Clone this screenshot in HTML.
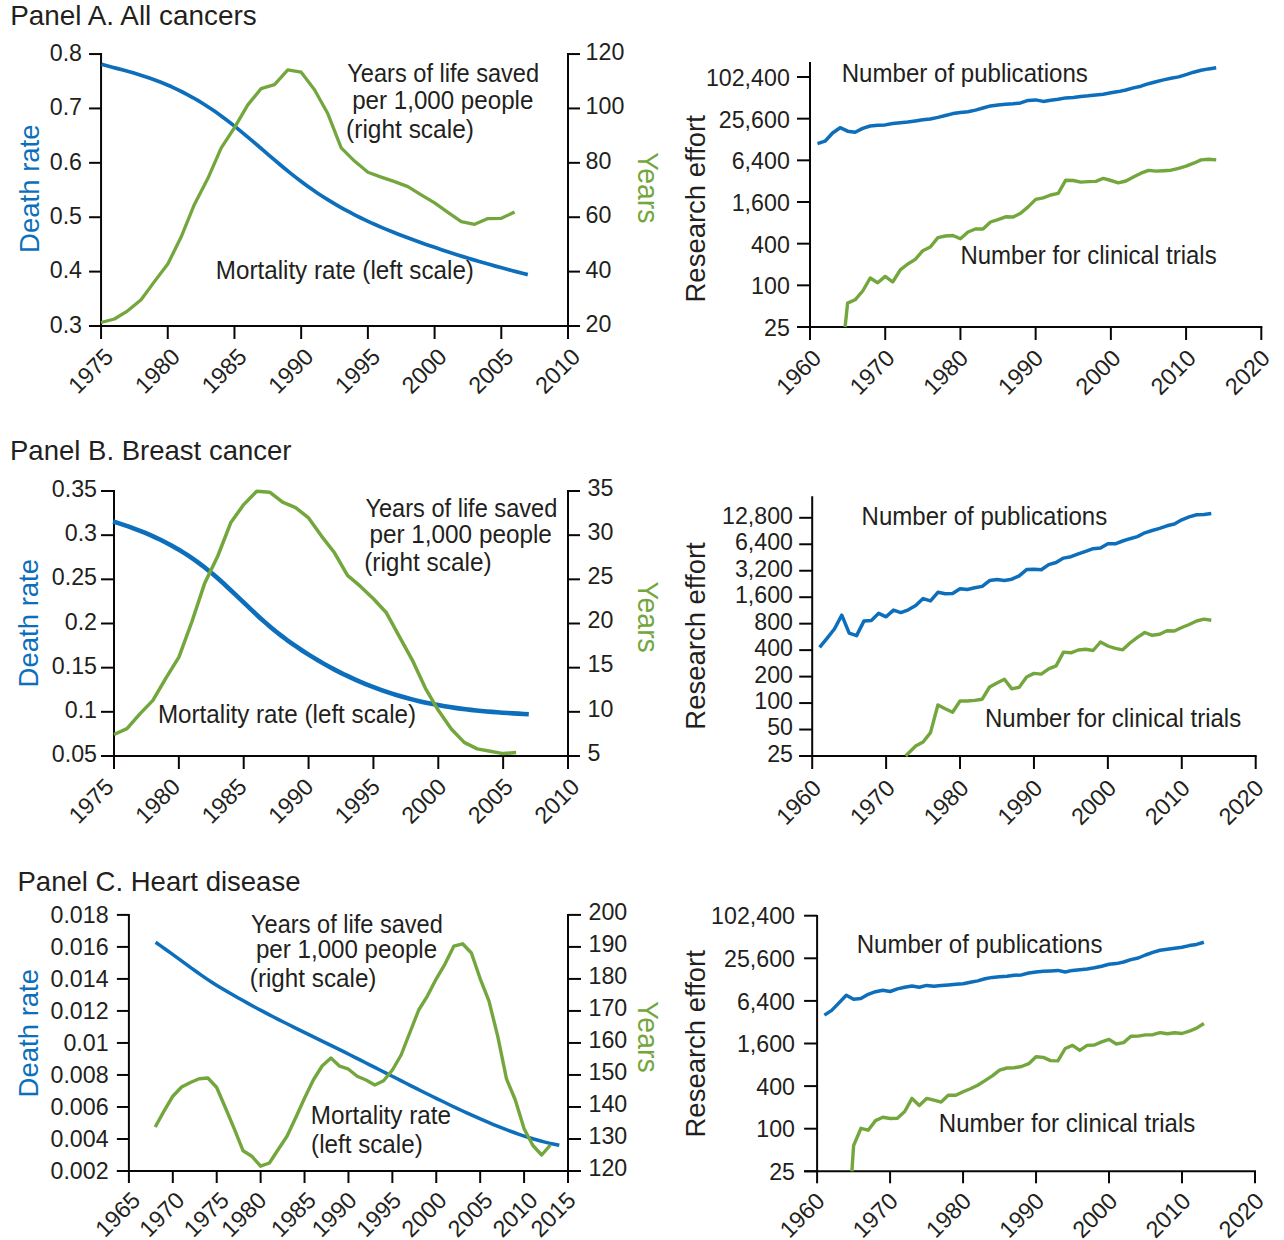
<!DOCTYPE html>
<html><head><meta charset="utf-8"><title>Figure</title>
<style>
html,body{margin:0;padding:0;background:#fff;}
body{width:1284px;height:1240px;overflow:hidden;}
svg{display:block;}
text{font-family:"Liberation Sans",sans-serif;}
</style></head><body>
<svg width="1284" height="1240" viewBox="0 0 1284 1240">
<rect width="1284" height="1240" fill="#ffffff"/>
<text transform="translate(10.20 24.60)" font-size="26.9" fill="#231f20" textLength="246.5" lengthAdjust="spacingAndGlyphs" >Panel A. All cancers</text>
<line x1="101.05" y1="53.05" x2="101.05" y2="327.00" stroke="#0a0606" stroke-width="2.0"/>
<line x1="568.00" y1="53.05" x2="568.00" y2="327.00" stroke="#0a0606" stroke-width="2.0"/>
<line x1="89.05" y1="326.00" x2="580.00" y2="326.00" stroke="#0a0606" stroke-width="2.0"/>
<line x1="89.05" y1="54.05" x2="101.05" y2="54.05" stroke="#0a0606" stroke-width="2.0"/>
<text transform="translate(82.00 60.85) scale(0.98 1)" font-size="23.7" fill="#231f20" text-anchor="end" >0.8</text>
<line x1="89.05" y1="108.44" x2="101.05" y2="108.44" stroke="#0a0606" stroke-width="2.0"/>
<text transform="translate(82.00 115.24) scale(0.98 1)" font-size="23.7" fill="#231f20" text-anchor="end" >0.7</text>
<line x1="89.05" y1="162.83" x2="101.05" y2="162.83" stroke="#0a0606" stroke-width="2.0"/>
<text transform="translate(82.00 169.63) scale(0.98 1)" font-size="23.7" fill="#231f20" text-anchor="end" >0.6</text>
<line x1="89.05" y1="217.22" x2="101.05" y2="217.22" stroke="#0a0606" stroke-width="2.0"/>
<text transform="translate(82.00 224.02) scale(0.98 1)" font-size="23.7" fill="#231f20" text-anchor="end" >0.5</text>
<line x1="89.05" y1="271.61" x2="101.05" y2="271.61" stroke="#0a0606" stroke-width="2.0"/>
<text transform="translate(82.00 278.41) scale(0.98 1)" font-size="23.7" fill="#231f20" text-anchor="end" >0.4</text>
<line x1="89.05" y1="326.00" x2="101.05" y2="326.00" stroke="#0a0606" stroke-width="2.0"/>
<text transform="translate(82.00 332.80) scale(0.98 1)" font-size="23.7" fill="#231f20" text-anchor="end" >0.3</text>
<line x1="568.00" y1="54.05" x2="580.00" y2="54.05" stroke="#0a0606" stroke-width="2.0"/>
<text transform="translate(585.60 59.95) scale(0.98 1)" font-size="23.7" fill="#231f20" >120</text>
<line x1="568.00" y1="108.44" x2="580.00" y2="108.44" stroke="#0a0606" stroke-width="2.0"/>
<text transform="translate(585.60 114.34) scale(0.98 1)" font-size="23.7" fill="#231f20" >100</text>
<line x1="568.00" y1="162.83" x2="580.00" y2="162.83" stroke="#0a0606" stroke-width="2.0"/>
<text transform="translate(585.60 168.73) scale(0.98 1)" font-size="23.7" fill="#231f20" >80</text>
<line x1="568.00" y1="217.22" x2="580.00" y2="217.22" stroke="#0a0606" stroke-width="2.0"/>
<text transform="translate(585.60 223.12) scale(0.98 1)" font-size="23.7" fill="#231f20" >60</text>
<line x1="568.00" y1="271.61" x2="580.00" y2="271.61" stroke="#0a0606" stroke-width="2.0"/>
<text transform="translate(585.60 277.51) scale(0.98 1)" font-size="23.7" fill="#231f20" >40</text>
<line x1="568.00" y1="326.00" x2="580.00" y2="326.00" stroke="#0a0606" stroke-width="2.0"/>
<text transform="translate(585.60 331.90) scale(0.98 1)" font-size="23.7" fill="#231f20" >20</text>
<line x1="101.05" y1="326.00" x2="101.05" y2="339.00" stroke="#0a0606" stroke-width="2.0"/>
<line x1="167.76" y1="326.00" x2="167.76" y2="339.00" stroke="#0a0606" stroke-width="2.0"/>
<line x1="234.46" y1="326.00" x2="234.46" y2="339.00" stroke="#0a0606" stroke-width="2.0"/>
<line x1="301.17" y1="326.00" x2="301.17" y2="339.00" stroke="#0a0606" stroke-width="2.0"/>
<line x1="367.88" y1="326.00" x2="367.88" y2="339.00" stroke="#0a0606" stroke-width="2.0"/>
<line x1="434.59" y1="326.00" x2="434.59" y2="339.00" stroke="#0a0606" stroke-width="2.0"/>
<line x1="501.29" y1="326.00" x2="501.29" y2="339.00" stroke="#0a0606" stroke-width="2.0"/>
<line x1="568.00" y1="326.00" x2="568.00" y2="339.00" stroke="#0a0606" stroke-width="2.0"/>
<text transform="translate(114.80 358.20) rotate(-45)" font-size="23.4" fill="#231f20" text-anchor="end" >1975</text>
<text transform="translate(181.50 358.20) rotate(-45)" font-size="23.4" fill="#231f20" text-anchor="end" >1980</text>
<text transform="translate(248.20 358.20) rotate(-45)" font-size="23.4" fill="#231f20" text-anchor="end" >1985</text>
<text transform="translate(314.90 358.20) rotate(-45)" font-size="23.4" fill="#231f20" text-anchor="end" >1990</text>
<text transform="translate(381.60 358.20) rotate(-45)" font-size="23.4" fill="#231f20" text-anchor="end" >1995</text>
<text transform="translate(448.30 358.20) rotate(-45)" font-size="23.4" fill="#231f20" text-anchor="end" >2000</text>
<text transform="translate(515.00 358.20) rotate(-45)" font-size="23.4" fill="#231f20" text-anchor="end" >2005</text>
<text transform="translate(581.70 358.20) rotate(-45)" font-size="23.4" fill="#231f20" text-anchor="end" >2010</text>
<text transform="translate(38.60 188.70) rotate(-90)" font-size="28.0" fill="#0d6fbb" text-anchor="middle" textLength="128.4" lengthAdjust="spacingAndGlyphs" >Death rate</text>
<text transform="translate(637.80 187.70) rotate(90)" font-size="29.0" fill="#74a63e" text-anchor="middle" textLength="71.6" lengthAdjust="spacingAndGlyphs" >Years</text>
<path d="M101.5,64.32 L106.9,65.77 L112.3,67.19 L117.7,68.61 L123.1,70.06 L128.5,71.54 L133.9,73.08 L139.3,74.69 L144.7,76.40 L150.1,78.21 L155.5,80.16 L160.9,82.24 L166.3,84.46 L171.7,86.82 L177.0,89.33 L182.4,91.99 L187.8,94.80 L193.2,97.77 L198.6,100.91 L204.0,104.21 L209.4,107.69 L214.8,111.34 L220.2,115.17 L225.6,119.18 L231.0,123.35 L236.4,127.65 L241.8,132.07 L247.2,136.58 L252.6,141.16 L258.0,145.78 L263.4,150.42 L268.8,155.05 L274.2,159.66 L279.6,164.23 L285.0,168.72 L290.4,173.11 L295.8,177.38 L301.2,181.51 L306.6,185.49 L312.0,189.31 L317.3,192.98 L322.7,196.51 L328.1,199.91 L333.5,203.17 L338.9,206.31 L344.3,209.33 L349.7,212.23 L355.1,215.03 L360.5,217.73 L365.9,220.32 L371.3,222.83 L376.7,225.25 L382.1,227.59 L387.5,229.86 L392.9,232.06 L398.3,234.20 L403.7,236.28 L409.1,238.31 L414.5,240.30 L419.9,242.24 L425.3,244.15 L430.7,246.03 L436.1,247.87 L441.5,249.68 L446.9,251.46 L452.3,253.21 L457.6,254.92 L463.0,256.61 L468.4,258.26 L473.8,259.89 L479.2,261.49 L484.6,263.05 L490.0,264.59 L495.4,266.10 L500.8,267.59 L506.2,269.05 L511.6,270.48 L517.0,271.88 L522.4,273.26 L527.8,274.61" fill="none" stroke="#0d6fbb" stroke-width="3.7" stroke-linejoin="round" stroke-linecap="butt"/>
<polyline points="101.0,322.5 114.4,319.0 127.7,310.8 141.1,299.8 154.4,281.6 167.8,264.0 181.1,237.1 194.4,204.4 207.8,178.6 221.1,148.2 234.5,127.6 247.8,104.9 261.1,88.6 274.5,84.6 287.8,69.9 301.2,72.2 314.5,89.7 327.9,113.8 341.2,147.8 354.5,161.1 367.9,172.3 381.2,177.1 394.6,181.6 407.9,186.6 421.2,194.8 434.6,202.8 447.9,212.3 461.3,221.6 474.6,224.3 488.0,218.6 501.3,218.3 514.6,212.1" fill="none" stroke="#74a63e" stroke-width="3.3" stroke-linejoin="round" stroke-linecap="butt"/>
<line x1="810.00" y1="62.00" x2="810.00" y2="328.00" stroke="#0a0606" stroke-width="2.0"/>
<line x1="797.00" y1="327.00" x2="1262.30" y2="327.00" stroke="#0a0606" stroke-width="2.0"/>
<line x1="797.00" y1="77.00" x2="810.00" y2="77.00" stroke="#0a0606" stroke-width="2.0"/>
<text transform="translate(789.80 86.00) scale(0.98 1)" font-size="23.7" fill="#231f20" text-anchor="end" >102,400</text>
<line x1="797.00" y1="118.67" x2="810.00" y2="118.67" stroke="#0a0606" stroke-width="2.0"/>
<text transform="translate(789.80 127.67) scale(0.98 1)" font-size="23.7" fill="#231f20" text-anchor="end" >25,600</text>
<line x1="797.00" y1="160.33" x2="810.00" y2="160.33" stroke="#0a0606" stroke-width="2.0"/>
<text transform="translate(789.80 169.33) scale(0.98 1)" font-size="23.7" fill="#231f20" text-anchor="end" >6,400</text>
<line x1="797.00" y1="202.00" x2="810.00" y2="202.00" stroke="#0a0606" stroke-width="2.0"/>
<text transform="translate(789.80 211.00) scale(0.98 1)" font-size="23.7" fill="#231f20" text-anchor="end" >1,600</text>
<line x1="797.00" y1="243.67" x2="810.00" y2="243.67" stroke="#0a0606" stroke-width="2.0"/>
<text transform="translate(789.80 252.67) scale(0.98 1)" font-size="23.7" fill="#231f20" text-anchor="end" >400</text>
<line x1="797.00" y1="285.33" x2="810.00" y2="285.33" stroke="#0a0606" stroke-width="2.0"/>
<text transform="translate(789.80 294.33) scale(0.98 1)" font-size="23.7" fill="#231f20" text-anchor="end" >100</text>
<line x1="797.00" y1="327.00" x2="810.00" y2="327.00" stroke="#0a0606" stroke-width="2.0"/>
<text transform="translate(789.80 336.00) scale(0.98 1)" font-size="23.7" fill="#231f20" text-anchor="end" >25</text>
<line x1="810.00" y1="327.00" x2="810.00" y2="340.00" stroke="#0a0606" stroke-width="2.0"/>
<line x1="885.22" y1="327.00" x2="885.22" y2="340.00" stroke="#0a0606" stroke-width="2.0"/>
<line x1="960.43" y1="327.00" x2="960.43" y2="340.00" stroke="#0a0606" stroke-width="2.0"/>
<line x1="1035.65" y1="327.00" x2="1035.65" y2="340.00" stroke="#0a0606" stroke-width="2.0"/>
<line x1="1110.87" y1="327.00" x2="1110.87" y2="340.00" stroke="#0a0606" stroke-width="2.0"/>
<line x1="1186.08" y1="327.00" x2="1186.08" y2="340.00" stroke="#0a0606" stroke-width="2.0"/>
<line x1="1261.30" y1="327.00" x2="1261.30" y2="340.00" stroke="#0a0606" stroke-width="2.0"/>
<text transform="translate(822.70 359.50) rotate(-45)" font-size="23.4" fill="#231f20" text-anchor="end" >1960</text>
<text transform="translate(896.20 359.50) rotate(-45)" font-size="23.4" fill="#231f20" text-anchor="end" >1970</text>
<text transform="translate(969.70 359.50) rotate(-45)" font-size="23.4" fill="#231f20" text-anchor="end" >1980</text>
<text transform="translate(1044.60 359.50) rotate(-45)" font-size="23.4" fill="#231f20" text-anchor="end" >1990</text>
<text transform="translate(1122.10 359.50) rotate(-45)" font-size="23.4" fill="#231f20" text-anchor="end" >2000</text>
<text transform="translate(1197.40 359.50) rotate(-45)" font-size="23.4" fill="#231f20" text-anchor="end" >2010</text>
<text transform="translate(1271.50 359.50) rotate(-45)" font-size="23.4" fill="#231f20" text-anchor="end" >2020</text>
<text transform="translate(705.30 208.80) rotate(-90)" font-size="28.0" fill="#231f20" text-anchor="middle" textLength="187.4" lengthAdjust="spacingAndGlyphs" >Research effort</text>
<polyline points="817.5,143.6 825.0,141.2 832.6,133.0 840.1,127.7 847.6,131.2 855.1,132.3 862.7,128.4 870.2,126.0 877.7,125.3 885.2,124.9 892.7,123.5 900.3,122.7 907.8,122.0 915.3,120.9 922.8,119.7 930.3,119.0 937.9,117.4 945.4,115.5 952.9,113.6 960.4,112.5 968.0,111.8 975.5,110.1 983.0,108.0 990.5,105.9 998.0,105.0 1005.6,104.3 1013.1,103.8 1020.6,102.9 1028.1,100.4 1035.7,99.9 1043.2,101.4 1050.7,100.3 1058.2,99.3 1065.7,97.9 1073.3,97.5 1080.8,96.5 1088.3,95.8 1095.8,94.9 1103.3,94.2 1110.9,92.8 1118.4,91.6 1125.9,90.0 1133.4,87.9 1141.0,86.2 1148.5,83.7 1156.0,81.8 1163.5,79.9 1171.0,78.3 1178.6,76.9 1186.1,74.6 1193.6,72.2 1201.1,70.3 1208.6,68.9 1216.2,67.8" fill="none" stroke="#0d6fbb" stroke-width="3.5" stroke-linejoin="round" stroke-linecap="butt"/>
<polyline points="845.1,327.0 847.6,303.1 855.1,299.8 862.7,291.0 870.2,278.0 877.7,282.7 885.2,276.4 892.7,282.0 900.3,269.9 907.8,264.0 915.3,259.4 922.8,250.7 930.3,247.0 937.9,237.6 945.4,236.0 952.9,235.5 960.4,238.8 968.0,232.0 975.5,229.0 983.0,229.0 990.5,222.0 998.0,219.6 1005.6,216.8 1013.1,217.0 1020.6,213.3 1028.1,206.9 1035.7,199.4 1043.2,197.8 1050.7,195.0 1058.2,193.3 1065.7,180.2 1073.3,180.5 1080.8,182.1 1088.3,181.6 1095.8,181.4 1103.3,178.4 1110.9,180.5 1118.4,182.8 1125.9,181.0 1133.4,177.0 1141.0,173.2 1148.5,170.4 1156.0,171.1 1163.5,170.7 1171.0,170.2 1178.6,168.3 1186.1,166.2 1193.6,163.2 1201.1,159.9 1208.6,159.2 1216.2,159.9" fill="none" stroke="#74a63e" stroke-width="3.4" stroke-linejoin="round" stroke-linecap="butt"/>
<text transform="translate(10.00 460.40)" font-size="26.9" fill="#231f20" textLength="281.5" lengthAdjust="spacingAndGlyphs" >Panel B. Breast cancer</text>
<line x1="114.00" y1="490.00" x2="114.00" y2="757.00" stroke="#0a0606" stroke-width="2.0"/>
<line x1="568.00" y1="490.00" x2="568.00" y2="757.00" stroke="#0a0606" stroke-width="2.0"/>
<line x1="101.00" y1="756.00" x2="580.00" y2="756.00" stroke="#0a0606" stroke-width="2.0"/>
<line x1="101.00" y1="491.00" x2="114.00" y2="491.00" stroke="#0a0606" stroke-width="2.0"/>
<text transform="translate(97.00 497.00) scale(0.98 1)" font-size="23.7" fill="#231f20" text-anchor="end" >0.35</text>
<line x1="101.00" y1="535.17" x2="114.00" y2="535.17" stroke="#0a0606" stroke-width="2.0"/>
<text transform="translate(97.00 541.17) scale(0.98 1)" font-size="23.7" fill="#231f20" text-anchor="end" >0.3</text>
<line x1="101.00" y1="579.33" x2="114.00" y2="579.33" stroke="#0a0606" stroke-width="2.0"/>
<text transform="translate(97.00 585.33) scale(0.98 1)" font-size="23.7" fill="#231f20" text-anchor="end" >0.25</text>
<line x1="101.00" y1="623.50" x2="114.00" y2="623.50" stroke="#0a0606" stroke-width="2.0"/>
<text transform="translate(97.00 629.50) scale(0.98 1)" font-size="23.7" fill="#231f20" text-anchor="end" >0.2</text>
<line x1="101.00" y1="667.67" x2="114.00" y2="667.67" stroke="#0a0606" stroke-width="2.0"/>
<text transform="translate(97.00 673.67) scale(0.98 1)" font-size="23.7" fill="#231f20" text-anchor="end" >0.15</text>
<line x1="101.00" y1="711.83" x2="114.00" y2="711.83" stroke="#0a0606" stroke-width="2.0"/>
<text transform="translate(97.00 717.83) scale(0.98 1)" font-size="23.7" fill="#231f20" text-anchor="end" >0.1</text>
<line x1="101.00" y1="756.00" x2="114.00" y2="756.00" stroke="#0a0606" stroke-width="2.0"/>
<text transform="translate(97.00 762.00) scale(0.98 1)" font-size="23.7" fill="#231f20" text-anchor="end" >0.05</text>
<line x1="568.00" y1="491.00" x2="580.00" y2="491.00" stroke="#0a0606" stroke-width="2.0"/>
<text transform="translate(587.60 495.80) scale(0.98 1)" font-size="23.7" fill="#231f20" >35</text>
<line x1="568.00" y1="535.17" x2="580.00" y2="535.17" stroke="#0a0606" stroke-width="2.0"/>
<text transform="translate(587.60 539.97) scale(0.98 1)" font-size="23.7" fill="#231f20" >30</text>
<line x1="568.00" y1="579.33" x2="580.00" y2="579.33" stroke="#0a0606" stroke-width="2.0"/>
<text transform="translate(587.60 584.13) scale(0.98 1)" font-size="23.7" fill="#231f20" >25</text>
<line x1="568.00" y1="623.50" x2="580.00" y2="623.50" stroke="#0a0606" stroke-width="2.0"/>
<text transform="translate(587.60 628.30) scale(0.98 1)" font-size="23.7" fill="#231f20" >20</text>
<line x1="568.00" y1="667.67" x2="580.00" y2="667.67" stroke="#0a0606" stroke-width="2.0"/>
<text transform="translate(587.60 672.47) scale(0.98 1)" font-size="23.7" fill="#231f20" >15</text>
<line x1="568.00" y1="711.83" x2="580.00" y2="711.83" stroke="#0a0606" stroke-width="2.0"/>
<text transform="translate(587.60 716.63) scale(0.98 1)" font-size="23.7" fill="#231f20" >10</text>
<line x1="568.00" y1="756.00" x2="580.00" y2="756.00" stroke="#0a0606" stroke-width="2.0"/>
<text transform="translate(587.60 760.80) scale(0.98 1)" font-size="23.7" fill="#231f20" >5</text>
<line x1="114.00" y1="756.00" x2="114.00" y2="769.00" stroke="#0a0606" stroke-width="2.0"/>
<line x1="178.86" y1="756.00" x2="178.86" y2="769.00" stroke="#0a0606" stroke-width="2.0"/>
<line x1="243.71" y1="756.00" x2="243.71" y2="769.00" stroke="#0a0606" stroke-width="2.0"/>
<line x1="308.57" y1="756.00" x2="308.57" y2="769.00" stroke="#0a0606" stroke-width="2.0"/>
<line x1="373.43" y1="756.00" x2="373.43" y2="769.00" stroke="#0a0606" stroke-width="2.0"/>
<line x1="438.29" y1="756.00" x2="438.29" y2="769.00" stroke="#0a0606" stroke-width="2.0"/>
<line x1="503.14" y1="756.00" x2="503.14" y2="769.00" stroke="#0a0606" stroke-width="2.0"/>
<line x1="568.00" y1="756.00" x2="568.00" y2="769.00" stroke="#0a0606" stroke-width="2.0"/>
<text transform="translate(115.20 788.30) rotate(-45)" font-size="23.4" fill="#231f20" text-anchor="end" >1975</text>
<text transform="translate(181.75 788.30) rotate(-45)" font-size="23.4" fill="#231f20" text-anchor="end" >1980</text>
<text transform="translate(248.30 788.30) rotate(-45)" font-size="23.4" fill="#231f20" text-anchor="end" >1985</text>
<text transform="translate(314.85 788.30) rotate(-45)" font-size="23.4" fill="#231f20" text-anchor="end" >1990</text>
<text transform="translate(381.40 788.30) rotate(-45)" font-size="23.4" fill="#231f20" text-anchor="end" >1995</text>
<text transform="translate(447.95 788.30) rotate(-45)" font-size="23.4" fill="#231f20" text-anchor="end" >2000</text>
<text transform="translate(514.50 788.30) rotate(-45)" font-size="23.4" fill="#231f20" text-anchor="end" >2005</text>
<text transform="translate(581.05 788.30) rotate(-45)" font-size="23.4" fill="#231f20" text-anchor="end" >2010</text>
<text transform="translate(37.90 623.20) rotate(-90)" font-size="28.0" fill="#0d6fbb" text-anchor="middle" textLength="128.4" lengthAdjust="spacingAndGlyphs" >Death rate</text>
<text transform="translate(637.80 617.00) rotate(90)" font-size="29.0" fill="#74a63e" text-anchor="middle" textLength="71.6" lengthAdjust="spacingAndGlyphs" >Years</text>
<path d="M113.1,521.50 L118.4,523.14 L123.6,524.86 L128.9,526.66 L134.1,528.56 L139.4,530.56 L144.7,532.68 L149.9,534.91 L155.2,537.28 L160.5,539.78 L165.7,542.43 L171.0,545.24 L176.2,548.21 L181.5,551.35 L186.8,554.67 L192.0,558.18 L197.3,561.89 L202.6,565.81 L207.8,569.94 L213.1,574.29 L218.3,578.85 L223.6,583.58 L228.9,588.44 L234.1,593.39 L239.4,598.40 L244.7,603.42 L249.9,608.42 L255.2,613.36 L260.4,618.19 L265.7,622.89 L271.0,627.40 L276.2,631.72 L281.5,635.84 L286.7,639.79 L292.0,643.58 L297.3,647.22 L302.5,650.74 L307.8,654.13 L313.1,657.41 L318.3,660.57 L323.6,663.62 L328.8,666.55 L334.1,669.37 L339.4,672.09 L344.6,674.69 L349.9,677.19 L355.2,679.59 L360.4,681.89 L365.7,684.08 L370.9,686.18 L376.2,688.18 L381.5,690.09 L386.7,691.90 L392.0,693.62 L397.2,695.26 L402.5,696.80 L407.8,698.26 L413.0,699.64 L418.3,700.94 L423.6,702.15 L428.8,703.29 L434.1,704.35 L439.3,705.33 L444.6,706.25 L449.9,707.09 L455.1,707.87 L460.4,708.60 L465.7,709.26 L470.9,709.87 L476.2,710.44 L481.4,710.96 L486.7,711.44 L492.0,711.88 L497.2,712.29 L502.5,712.67 L507.8,713.02 L513.0,713.35 L518.3,713.67 L523.5,713.97 L528.8,714.26" fill="none" stroke="#0d6fbb" stroke-width="4.6" stroke-linejoin="round" stroke-linecap="butt"/>
<polyline points="114.0,734.5 127.0,728.7 139.9,713.9 152.9,700.4 165.9,678.1 178.9,657.1 191.8,622.0 204.8,582.9 217.8,556.0 230.7,522.8 243.7,504.6 256.7,491.2 269.7,492.2 282.6,502.2 295.6,507.6 308.6,517.9 321.5,536.1 334.5,552.8 347.5,575.4 360.5,586.4 373.4,598.8 386.4,612.8 399.4,636.7 412.3,660.1 425.3,688.1 438.3,710.3 451.3,729.0 464.2,742.4 477.2,748.9 490.2,751.2 503.1,753.6 516.1,752.4" fill="none" stroke="#74a63e" stroke-width="3.5" stroke-linejoin="round" stroke-linecap="butt"/>
<line x1="812.20" y1="496.30" x2="812.20" y2="757.00" stroke="#0a0606" stroke-width="2.0"/>
<line x1="799.20" y1="756.00" x2="1256.70" y2="756.00" stroke="#0a0606" stroke-width="2.0"/>
<line x1="799.20" y1="517.80" x2="812.20" y2="517.80" stroke="#0a0606" stroke-width="2.0"/>
<text transform="translate(793.00 523.70) scale(0.98 1)" font-size="23.7" fill="#231f20" text-anchor="end" >12,800</text>
<line x1="799.20" y1="544.27" x2="812.20" y2="544.27" stroke="#0a0606" stroke-width="2.0"/>
<text transform="translate(793.00 550.17) scale(0.98 1)" font-size="23.7" fill="#231f20" text-anchor="end" >6,400</text>
<line x1="799.20" y1="570.73" x2="812.20" y2="570.73" stroke="#0a0606" stroke-width="2.0"/>
<text transform="translate(793.00 576.63) scale(0.98 1)" font-size="23.7" fill="#231f20" text-anchor="end" >3,200</text>
<line x1="799.20" y1="597.20" x2="812.20" y2="597.20" stroke="#0a0606" stroke-width="2.0"/>
<text transform="translate(793.00 603.10) scale(0.98 1)" font-size="23.7" fill="#231f20" text-anchor="end" >1,600</text>
<line x1="799.20" y1="623.67" x2="812.20" y2="623.67" stroke="#0a0606" stroke-width="2.0"/>
<text transform="translate(793.00 629.57) scale(0.98 1)" font-size="23.7" fill="#231f20" text-anchor="end" >800</text>
<line x1="799.20" y1="650.13" x2="812.20" y2="650.13" stroke="#0a0606" stroke-width="2.0"/>
<text transform="translate(793.00 656.03) scale(0.98 1)" font-size="23.7" fill="#231f20" text-anchor="end" >400</text>
<line x1="799.20" y1="676.60" x2="812.20" y2="676.60" stroke="#0a0606" stroke-width="2.0"/>
<text transform="translate(793.00 682.50) scale(0.98 1)" font-size="23.7" fill="#231f20" text-anchor="end" >200</text>
<line x1="799.20" y1="703.07" x2="812.20" y2="703.07" stroke="#0a0606" stroke-width="2.0"/>
<text transform="translate(793.00 708.97) scale(0.98 1)" font-size="23.7" fill="#231f20" text-anchor="end" >100</text>
<line x1="799.20" y1="729.53" x2="812.20" y2="729.53" stroke="#0a0606" stroke-width="2.0"/>
<text transform="translate(793.00 735.43) scale(0.98 1)" font-size="23.7" fill="#231f20" text-anchor="end" >50</text>
<line x1="799.20" y1="756.00" x2="812.20" y2="756.00" stroke="#0a0606" stroke-width="2.0"/>
<text transform="translate(793.00 761.90) scale(0.98 1)" font-size="23.7" fill="#231f20" text-anchor="end" >25</text>
<line x1="812.20" y1="756.00" x2="812.20" y2="769.00" stroke="#0a0606" stroke-width="2.0"/>
<line x1="886.12" y1="756.00" x2="886.12" y2="769.00" stroke="#0a0606" stroke-width="2.0"/>
<line x1="960.03" y1="756.00" x2="960.03" y2="769.00" stroke="#0a0606" stroke-width="2.0"/>
<line x1="1033.95" y1="756.00" x2="1033.95" y2="769.00" stroke="#0a0606" stroke-width="2.0"/>
<line x1="1107.87" y1="756.00" x2="1107.87" y2="769.00" stroke="#0a0606" stroke-width="2.0"/>
<line x1="1181.78" y1="756.00" x2="1181.78" y2="769.00" stroke="#0a0606" stroke-width="2.0"/>
<line x1="1255.70" y1="756.00" x2="1255.70" y2="769.00" stroke="#0a0606" stroke-width="2.0"/>
<text transform="translate(822.70 789.50) rotate(-45)" font-size="23.4" fill="#231f20" text-anchor="end" >1960</text>
<text transform="translate(896.45 789.50) rotate(-45)" font-size="23.4" fill="#231f20" text-anchor="end" >1970</text>
<text transform="translate(970.20 789.50) rotate(-45)" font-size="23.4" fill="#231f20" text-anchor="end" >1980</text>
<text transform="translate(1043.95 789.50) rotate(-45)" font-size="23.4" fill="#231f20" text-anchor="end" >1990</text>
<text transform="translate(1117.70 789.50) rotate(-45)" font-size="23.4" fill="#231f20" text-anchor="end" >2000</text>
<text transform="translate(1191.45 789.50) rotate(-45)" font-size="23.4" fill="#231f20" text-anchor="end" >2010</text>
<text transform="translate(1265.20 789.50) rotate(-45)" font-size="23.4" fill="#231f20" text-anchor="end" >2020</text>
<text transform="translate(705.30 636.00) rotate(-90)" font-size="28.0" fill="#231f20" text-anchor="middle" textLength="187.4" lengthAdjust="spacingAndGlyphs" >Research effort</text>
<polyline points="819.6,647.3 827.0,638.4 834.4,629.0 841.8,615.2 849.2,633.2 856.6,635.6 863.9,621.1 871.3,620.4 878.7,613.3 886.1,616.8 893.5,610.1 900.9,612.6 908.3,609.8 915.7,605.6 923.1,598.6 930.5,600.9 937.9,592.3 945.2,593.7 952.6,593.5 960.0,588.8 967.4,589.5 974.8,587.8 982.2,586.4 989.6,580.6 997.0,579.6 1004.4,580.4 1011.8,579.2 1019.2,575.9 1026.6,569.6 1034.0,569.2 1041.3,569.8 1048.7,564.6 1056.1,562.5 1063.5,558.1 1070.9,556.7 1078.3,553.9 1085.7,551.3 1093.1,548.7 1100.5,548.0 1107.9,543.8 1115.3,543.8 1122.7,541.0 1130.0,538.7 1137.4,536.6 1144.8,532.8 1152.2,530.5 1159.6,528.4 1167.0,525.8 1174.4,524.0 1181.8,519.8 1189.2,516.9 1196.6,514.8 1204.0,514.4 1211.3,513.4" fill="none" stroke="#0d6fbb" stroke-width="3.5" stroke-linejoin="round" stroke-linecap="butt"/>
<polyline points="905.7,756.0 908.3,753.2 915.7,746.0 923.1,742.0 930.5,732.6 937.9,705.0 945.2,708.8 952.6,712.3 960.0,701.0 967.4,701.0 974.8,700.4 982.2,699.2 989.6,687.0 997.0,683.0 1004.4,679.3 1011.8,688.9 1019.2,687.3 1026.6,677.0 1034.0,673.4 1041.3,674.1 1048.7,668.9 1056.1,665.9 1063.5,652.1 1070.9,652.8 1078.3,650.0 1085.7,649.3 1093.1,650.5 1100.5,642.0 1107.9,646.0 1115.3,648.4 1122.7,649.8 1130.0,643.0 1137.4,637.4 1144.8,632.5 1152.2,635.3 1159.6,634.3 1167.0,630.8 1174.4,631.0 1181.8,627.5 1189.2,624.5 1196.6,621.0 1204.0,619.1 1211.3,620.3" fill="none" stroke="#74a63e" stroke-width="3.4" stroke-linejoin="round" stroke-linecap="butt"/>
<text transform="translate(17.50 891.10)" font-size="26.9" fill="#231f20" textLength="283" lengthAdjust="spacingAndGlyphs" >Panel C. Heart disease</text>
<line x1="128.90" y1="913.90" x2="128.90" y2="1172.00" stroke="#0a0606" stroke-width="2.0"/>
<line x1="568.00" y1="913.90" x2="568.00" y2="1172.00" stroke="#0a0606" stroke-width="2.0"/>
<line x1="116.90" y1="1171.00" x2="581.00" y2="1171.00" stroke="#0a0606" stroke-width="2.0"/>
<line x1="116.90" y1="914.90" x2="128.90" y2="914.90" stroke="#0a0606" stroke-width="2.0"/>
<text transform="translate(108.60 923.10) scale(0.98 1)" font-size="23.7" fill="#231f20" text-anchor="end" >0.018</text>
<line x1="116.90" y1="946.91" x2="128.90" y2="946.91" stroke="#0a0606" stroke-width="2.0"/>
<text transform="translate(108.60 955.11) scale(0.98 1)" font-size="23.7" fill="#231f20" text-anchor="end" >0.016</text>
<line x1="116.90" y1="978.92" x2="128.90" y2="978.92" stroke="#0a0606" stroke-width="2.0"/>
<text transform="translate(108.60 987.12) scale(0.98 1)" font-size="23.7" fill="#231f20" text-anchor="end" >0.014</text>
<line x1="116.90" y1="1010.94" x2="128.90" y2="1010.94" stroke="#0a0606" stroke-width="2.0"/>
<text transform="translate(108.60 1019.14) scale(0.98 1)" font-size="23.7" fill="#231f20" text-anchor="end" >0.012</text>
<line x1="116.90" y1="1042.95" x2="128.90" y2="1042.95" stroke="#0a0606" stroke-width="2.0"/>
<text transform="translate(108.60 1051.15) scale(0.98 1)" font-size="23.7" fill="#231f20" text-anchor="end" >0.01</text>
<line x1="116.90" y1="1074.96" x2="128.90" y2="1074.96" stroke="#0a0606" stroke-width="2.0"/>
<text transform="translate(108.60 1083.16) scale(0.98 1)" font-size="23.7" fill="#231f20" text-anchor="end" >0.008</text>
<line x1="116.90" y1="1106.97" x2="128.90" y2="1106.97" stroke="#0a0606" stroke-width="2.0"/>
<text transform="translate(108.60 1115.17) scale(0.98 1)" font-size="23.7" fill="#231f20" text-anchor="end" >0.006</text>
<line x1="116.90" y1="1138.99" x2="128.90" y2="1138.99" stroke="#0a0606" stroke-width="2.0"/>
<text transform="translate(108.60 1147.19) scale(0.98 1)" font-size="23.7" fill="#231f20" text-anchor="end" >0.004</text>
<line x1="116.90" y1="1171.00" x2="128.90" y2="1171.00" stroke="#0a0606" stroke-width="2.0"/>
<text transform="translate(108.60 1179.20) scale(0.98 1)" font-size="23.7" fill="#231f20" text-anchor="end" >0.002</text>
<line x1="568.00" y1="914.90" x2="581.00" y2="914.90" stroke="#0a0606" stroke-width="2.0"/>
<text transform="translate(588.50 920.20) scale(0.98 1)" font-size="23.7" fill="#231f20" >200</text>
<line x1="568.00" y1="946.91" x2="581.00" y2="946.91" stroke="#0a0606" stroke-width="2.0"/>
<text transform="translate(588.50 952.21) scale(0.98 1)" font-size="23.7" fill="#231f20" >190</text>
<line x1="568.00" y1="978.92" x2="581.00" y2="978.92" stroke="#0a0606" stroke-width="2.0"/>
<text transform="translate(588.50 984.22) scale(0.98 1)" font-size="23.7" fill="#231f20" >180</text>
<line x1="568.00" y1="1010.94" x2="581.00" y2="1010.94" stroke="#0a0606" stroke-width="2.0"/>
<text transform="translate(588.50 1016.24) scale(0.98 1)" font-size="23.7" fill="#231f20" >170</text>
<line x1="568.00" y1="1042.95" x2="581.00" y2="1042.95" stroke="#0a0606" stroke-width="2.0"/>
<text transform="translate(588.50 1048.25) scale(0.98 1)" font-size="23.7" fill="#231f20" >160</text>
<line x1="568.00" y1="1074.96" x2="581.00" y2="1074.96" stroke="#0a0606" stroke-width="2.0"/>
<text transform="translate(588.50 1080.26) scale(0.98 1)" font-size="23.7" fill="#231f20" >150</text>
<line x1="568.00" y1="1106.97" x2="581.00" y2="1106.97" stroke="#0a0606" stroke-width="2.0"/>
<text transform="translate(588.50 1112.27) scale(0.98 1)" font-size="23.7" fill="#231f20" >140</text>
<line x1="568.00" y1="1138.99" x2="581.00" y2="1138.99" stroke="#0a0606" stroke-width="2.0"/>
<text transform="translate(588.50 1144.29) scale(0.98 1)" font-size="23.7" fill="#231f20" >130</text>
<line x1="568.00" y1="1171.00" x2="581.00" y2="1171.00" stroke="#0a0606" stroke-width="2.0"/>
<text transform="translate(588.50 1176.30) scale(0.98 1)" font-size="23.7" fill="#231f20" >120</text>
<line x1="128.90" y1="1171.00" x2="128.90" y2="1183.00" stroke="#0a0606" stroke-width="2.0"/>
<line x1="172.81" y1="1171.00" x2="172.81" y2="1183.00" stroke="#0a0606" stroke-width="2.0"/>
<line x1="216.72" y1="1171.00" x2="216.72" y2="1183.00" stroke="#0a0606" stroke-width="2.0"/>
<line x1="260.63" y1="1171.00" x2="260.63" y2="1183.00" stroke="#0a0606" stroke-width="2.0"/>
<line x1="304.54" y1="1171.00" x2="304.54" y2="1183.00" stroke="#0a0606" stroke-width="2.0"/>
<line x1="348.45" y1="1171.00" x2="348.45" y2="1183.00" stroke="#0a0606" stroke-width="2.0"/>
<line x1="392.36" y1="1171.00" x2="392.36" y2="1183.00" stroke="#0a0606" stroke-width="2.0"/>
<line x1="436.27" y1="1171.00" x2="436.27" y2="1183.00" stroke="#0a0606" stroke-width="2.0"/>
<line x1="480.18" y1="1171.00" x2="480.18" y2="1183.00" stroke="#0a0606" stroke-width="2.0"/>
<line x1="524.09" y1="1171.00" x2="524.09" y2="1183.00" stroke="#0a0606" stroke-width="2.0"/>
<line x1="568.00" y1="1171.00" x2="568.00" y2="1183.00" stroke="#0a0606" stroke-width="2.0"/>
<text transform="translate(141.80 1201.70) rotate(-45)" font-size="23.4" fill="#231f20" text-anchor="end" >1965</text>
<text transform="translate(185.90 1201.70) rotate(-45)" font-size="23.4" fill="#231f20" text-anchor="end" >1970</text>
<text transform="translate(230.40 1201.70) rotate(-45)" font-size="23.4" fill="#231f20" text-anchor="end" >1975</text>
<text transform="translate(267.90 1201.70) rotate(-45)" font-size="23.4" fill="#231f20" text-anchor="end" >1980</text>
<text transform="translate(317.50 1201.70) rotate(-45)" font-size="23.4" fill="#231f20" text-anchor="end" >1985</text>
<text transform="translate(358.20 1201.70) rotate(-45)" font-size="23.4" fill="#231f20" text-anchor="end" >1990</text>
<text transform="translate(402.70 1201.70) rotate(-45)" font-size="23.4" fill="#231f20" text-anchor="end" >1995</text>
<text transform="translate(448.10 1201.70) rotate(-45)" font-size="23.4" fill="#231f20" text-anchor="end" >2000</text>
<text transform="translate(494.30 1201.70) rotate(-45)" font-size="23.4" fill="#231f20" text-anchor="end" >2005</text>
<text transform="translate(539.20 1201.70) rotate(-45)" font-size="23.4" fill="#231f20" text-anchor="end" >2010</text>
<text transform="translate(577.20 1201.70) rotate(-45)" font-size="23.4" fill="#231f20" text-anchor="end" >2015</text>
<text transform="translate(37.90 1033.20) rotate(-90)" font-size="28.0" fill="#0d6fbb" text-anchor="middle" textLength="128.4" lengthAdjust="spacingAndGlyphs" >Death rate</text>
<text transform="translate(637.80 1036.80) rotate(90)" font-size="29.0" fill="#74a63e" text-anchor="middle" textLength="71.6" lengthAdjust="spacingAndGlyphs" >Years</text>
<path d="M155.6,942.31 L160.7,945.85 L165.8,949.49 L170.9,953.18 L176.0,956.92 L181.2,960.67 L186.3,964.41 L191.4,968.12 L196.5,971.78 L201.6,975.37 L206.7,978.85 L211.8,982.21 L216.9,985.44 L222.0,988.56 L227.1,991.59 L232.3,994.54 L237.4,997.44 L242.5,1000.29 L247.6,1003.12 L252.7,1005.92 L257.8,1008.68 L262.9,1011.41 L268.0,1014.11 L273.1,1016.76 L278.2,1019.38 L283.4,1021.97 L288.5,1024.53 L293.6,1027.07 L298.7,1029.59 L303.8,1032.09 L308.9,1034.59 L314.0,1037.09 L319.1,1039.58 L324.2,1042.08 L329.3,1044.59 L334.5,1047.11 L339.6,1049.64 L344.7,1052.19 L349.8,1054.75 L354.9,1057.32 L360.0,1059.90 L365.1,1062.48 L370.2,1065.07 L375.3,1067.67 L380.4,1070.26 L385.6,1072.86 L390.7,1075.46 L395.8,1078.06 L400.9,1080.66 L406.0,1083.25 L411.1,1085.83 L416.2,1088.41 L421.3,1090.97 L426.4,1093.52 L431.5,1096.05 L436.7,1098.56 L441.8,1101.05 L446.9,1103.52 L452.0,1105.96 L457.1,1108.37 L462.2,1110.75 L467.3,1113.10 L472.4,1115.42 L477.5,1117.70 L482.6,1119.93 L487.8,1122.13 L492.9,1124.27 L498.0,1126.37 L503.1,1128.40 L508.2,1130.36 L513.3,1132.26 L518.4,1134.08 L523.5,1135.82 L528.6,1137.47 L533.7,1139.03 L538.9,1140.49 L544.0,1141.85 L549.1,1143.10 L554.2,1144.23 L559.3,1145.25" fill="none" stroke="#0d6fbb" stroke-width="3.5" stroke-linejoin="round" stroke-linecap="butt"/>
<polyline points="155.2,1127.0 164.0,1111.2 172.8,1096.2 181.6,1087.0 190.4,1082.5 199.2,1078.8 207.9,1078.0 216.7,1087.5 225.5,1108.0 234.3,1128.8 243.1,1150.8 251.8,1156.2 260.6,1166.2 269.4,1163.0 278.2,1149.5 287.0,1136.2 295.8,1117.5 304.5,1098.2 313.3,1080.0 322.1,1066.0 330.9,1058.0 339.7,1066.2 348.5,1069.2 357.2,1076.2 366.0,1080.0 374.8,1085.0 383.6,1080.8 392.4,1070.0 401.1,1055.0 409.9,1032.5 418.7,1010.0 427.5,995.8 436.3,978.8 445.1,963.8 453.8,946.2 462.6,943.8 471.4,953.0 480.2,978.8 489.0,1001.2 497.7,1036.2 506.5,1078.8 515.3,1100.0 524.1,1128.8 532.9,1145.5 541.7,1155.0 550.4,1145.0" fill="none" stroke="#74a63e" stroke-width="3.4" stroke-linejoin="round" stroke-linecap="butt"/>
<line x1="817.10" y1="915.00" x2="817.10" y2="1172.30" stroke="#0a0606" stroke-width="2.0"/>
<line x1="804.10" y1="1171.30" x2="1256.00" y2="1171.30" stroke="#0a0606" stroke-width="2.0"/>
<line x1="804.10" y1="915.70" x2="817.10" y2="915.70" stroke="#0a0606" stroke-width="2.0"/>
<text transform="translate(795.00 924.30) scale(0.98 1)" font-size="23.7" fill="#231f20" text-anchor="end" >102,400</text>
<line x1="804.10" y1="958.30" x2="817.10" y2="958.30" stroke="#0a0606" stroke-width="2.0"/>
<text transform="translate(795.00 966.90) scale(0.98 1)" font-size="23.7" fill="#231f20" text-anchor="end" >25,600</text>
<line x1="804.10" y1="1000.90" x2="817.10" y2="1000.90" stroke="#0a0606" stroke-width="2.0"/>
<text transform="translate(795.00 1009.50) scale(0.98 1)" font-size="23.7" fill="#231f20" text-anchor="end" >6,400</text>
<line x1="804.10" y1="1043.50" x2="817.10" y2="1043.50" stroke="#0a0606" stroke-width="2.0"/>
<text transform="translate(795.00 1052.10) scale(0.98 1)" font-size="23.7" fill="#231f20" text-anchor="end" >1,600</text>
<line x1="804.10" y1="1086.10" x2="817.10" y2="1086.10" stroke="#0a0606" stroke-width="2.0"/>
<text transform="translate(795.00 1094.70) scale(0.98 1)" font-size="23.7" fill="#231f20" text-anchor="end" >400</text>
<line x1="804.10" y1="1128.70" x2="817.10" y2="1128.70" stroke="#0a0606" stroke-width="2.0"/>
<text transform="translate(795.00 1137.30) scale(0.98 1)" font-size="23.7" fill="#231f20" text-anchor="end" >100</text>
<line x1="804.10" y1="1171.30" x2="817.10" y2="1171.30" stroke="#0a0606" stroke-width="2.0"/>
<text transform="translate(795.00 1179.90) scale(0.98 1)" font-size="23.7" fill="#231f20" text-anchor="end" >25</text>
<line x1="817.10" y1="1171.30" x2="817.10" y2="1183.30" stroke="#0a0606" stroke-width="2.0"/>
<line x1="890.08" y1="1171.30" x2="890.08" y2="1183.30" stroke="#0a0606" stroke-width="2.0"/>
<line x1="963.07" y1="1171.30" x2="963.07" y2="1183.30" stroke="#0a0606" stroke-width="2.0"/>
<line x1="1036.05" y1="1171.30" x2="1036.05" y2="1183.30" stroke="#0a0606" stroke-width="2.0"/>
<line x1="1109.03" y1="1171.30" x2="1109.03" y2="1183.30" stroke="#0a0606" stroke-width="2.0"/>
<line x1="1182.02" y1="1171.30" x2="1182.02" y2="1183.30" stroke="#0a0606" stroke-width="2.0"/>
<line x1="1255.00" y1="1171.30" x2="1255.00" y2="1183.30" stroke="#0a0606" stroke-width="2.0"/>
<text transform="translate(826.20 1202.50) rotate(-45)" font-size="23.4" fill="#231f20" text-anchor="end" >1960</text>
<text transform="translate(899.40 1202.50) rotate(-45)" font-size="23.4" fill="#231f20" text-anchor="end" >1970</text>
<text transform="translate(972.60 1202.50) rotate(-45)" font-size="23.4" fill="#231f20" text-anchor="end" >1980</text>
<text transform="translate(1045.80 1202.50) rotate(-45)" font-size="23.4" fill="#231f20" text-anchor="end" >1990</text>
<text transform="translate(1119.00 1202.50) rotate(-45)" font-size="23.4" fill="#231f20" text-anchor="end" >2000</text>
<text transform="translate(1192.20 1202.50) rotate(-45)" font-size="23.4" fill="#231f20" text-anchor="end" >2010</text>
<text transform="translate(1265.40 1202.50) rotate(-45)" font-size="23.4" fill="#231f20" text-anchor="end" >2020</text>
<text transform="translate(705.30 1043.80) rotate(-90)" font-size="28.0" fill="#231f20" text-anchor="middle" textLength="187.4" lengthAdjust="spacingAndGlyphs" >Research effort</text>
<polyline points="824.4,1015.1 831.7,1010.4 839.0,1002.9 846.3,995.2 853.6,999.2 860.9,998.5 868.2,994.3 875.5,991.7 882.8,990.3 890.1,991.5 897.4,988.9 904.7,987.3 912.0,986.1 919.3,987.3 926.6,985.4 933.9,986.3 941.2,985.6 948.5,984.9 955.8,984.2 963.1,983.7 970.4,982.3 977.7,980.9 985.0,978.8 992.3,977.4 999.6,976.7 1006.9,976.3 1014.2,975.3 1021.5,974.9 1028.8,973.0 1036.0,971.9 1043.3,971.3 1050.6,970.9 1057.9,970.4 1065.2,972.0 1072.5,970.4 1079.8,969.7 1087.1,969.0 1094.4,967.8 1101.7,966.2 1109.0,964.3 1116.3,963.6 1123.6,962.0 1130.9,959.6 1138.2,958.0 1145.5,955.0 1152.8,952.4 1160.1,950.3 1167.4,949.3 1174.7,948.2 1182.0,947.2 1189.3,945.6 1196.6,944.4 1203.9,942.3" fill="none" stroke="#0d6fbb" stroke-width="3.5" stroke-linejoin="round" stroke-linecap="butt"/>
<polyline points="851.9,1171.3 853.6,1145.6 860.9,1128.3 868.2,1130.2 875.5,1120.6 882.8,1117.3 890.1,1118.5 897.4,1118.2 904.7,1111.5 912.0,1098.4 919.3,1105.4 926.6,1098.4 933.9,1100.2 941.2,1102.1 948.5,1095.1 955.8,1095.3 963.1,1091.8 970.4,1088.8 977.7,1085.3 985.0,1080.6 992.3,1075.9 999.6,1070.1 1006.9,1068.0 1014.2,1067.7 1021.5,1066.5 1028.8,1063.7 1036.0,1056.7 1043.3,1057.4 1050.6,1060.6 1057.9,1060.9 1065.2,1048.5 1072.5,1045.4 1079.8,1050.4 1087.1,1045.4 1094.4,1045.0 1101.7,1041.9 1109.0,1039.4 1116.3,1044.0 1123.6,1042.6 1130.9,1036.3 1138.2,1036.1 1145.5,1034.9 1152.8,1034.7 1160.1,1032.6 1167.4,1033.8 1174.7,1032.8 1182.0,1033.5 1189.3,1031.2 1196.6,1028.1 1203.9,1023.5" fill="none" stroke="#74a63e" stroke-width="3.4" stroke-linejoin="round" stroke-linecap="butt"/>
<text transform="translate(347.30 81.60)" font-size="26.0" fill="#231f20" textLength="191.8" lengthAdjust="spacingAndGlyphs" >Years of life saved</text>
<text transform="translate(352.15 109.00)" font-size="26.0" fill="#231f20" textLength="181.2" lengthAdjust="spacingAndGlyphs" >per 1,000 people</text>
<text transform="translate(346.10 137.80)" font-size="26.0" fill="#231f20" textLength="127.8" lengthAdjust="spacingAndGlyphs" >(right scale)</text>
<text transform="translate(215.80 278.90)" font-size="26.0" fill="#231f20" textLength="258.1" lengthAdjust="spacingAndGlyphs" >Mortality rate (left scale)</text>
<text transform="translate(841.70 82.00)" font-size="26.0" fill="#231f20" textLength="246.2" lengthAdjust="spacingAndGlyphs" >Number of publications</text>
<text transform="translate(960.40 264.00)" font-size="26.0" fill="#231f20" textLength="256.3" lengthAdjust="spacingAndGlyphs" >Number for clinical trials</text>
<text transform="translate(365.40 517.00)" font-size="26.0" fill="#231f20" textLength="191.9" lengthAdjust="spacingAndGlyphs" >Years of life saved</text>
<text transform="translate(369.40 542.60)" font-size="26.0" fill="#231f20" textLength="182.5" lengthAdjust="spacingAndGlyphs" >per 1,000 people</text>
<text transform="translate(364.20 571.20)" font-size="26.0" fill="#231f20" textLength="127.4" lengthAdjust="spacingAndGlyphs" >(right scale)</text>
<text transform="translate(157.90 722.70)" font-size="26.0" fill="#231f20" textLength="258.2" lengthAdjust="spacingAndGlyphs" >Mortality rate (left scale)</text>
<text transform="translate(861.60 524.90)" font-size="26.0" fill="#231f20" textLength="245.6" lengthAdjust="spacingAndGlyphs" >Number of publications</text>
<text transform="translate(985.00 726.50)" font-size="26.0" fill="#231f20" textLength="256.2" lengthAdjust="spacingAndGlyphs" >Number for clinical trials</text>
<text transform="translate(251.05 933.30)" font-size="26.0" fill="#231f20" textLength="191.8" lengthAdjust="spacingAndGlyphs" >Years of life saved</text>
<text transform="translate(255.90 958.00)" font-size="26.0" fill="#231f20" textLength="181.2" lengthAdjust="spacingAndGlyphs" >per 1,000 people</text>
<text transform="translate(249.85 987.00)" font-size="26.0" fill="#231f20" textLength="126.6" lengthAdjust="spacingAndGlyphs" >(right scale)</text>
<text transform="translate(310.80 1123.80)" font-size="26.0" fill="#231f20" textLength="140.1" lengthAdjust="spacingAndGlyphs" >Mortality rate</text>
<text transform="translate(311.10 1152.50)" font-size="26.0" fill="#231f20" textLength="111.6" lengthAdjust="spacingAndGlyphs" >(left scale)</text>
<text transform="translate(856.70 953.10)" font-size="26.0" fill="#231f20" textLength="245.8" lengthAdjust="spacingAndGlyphs" >Number of publications</text>
<text transform="translate(938.80 1131.70)" font-size="26.0" fill="#231f20" textLength="256.5" lengthAdjust="spacingAndGlyphs" >Number for clinical trials</text>
</svg>
</body></html>
